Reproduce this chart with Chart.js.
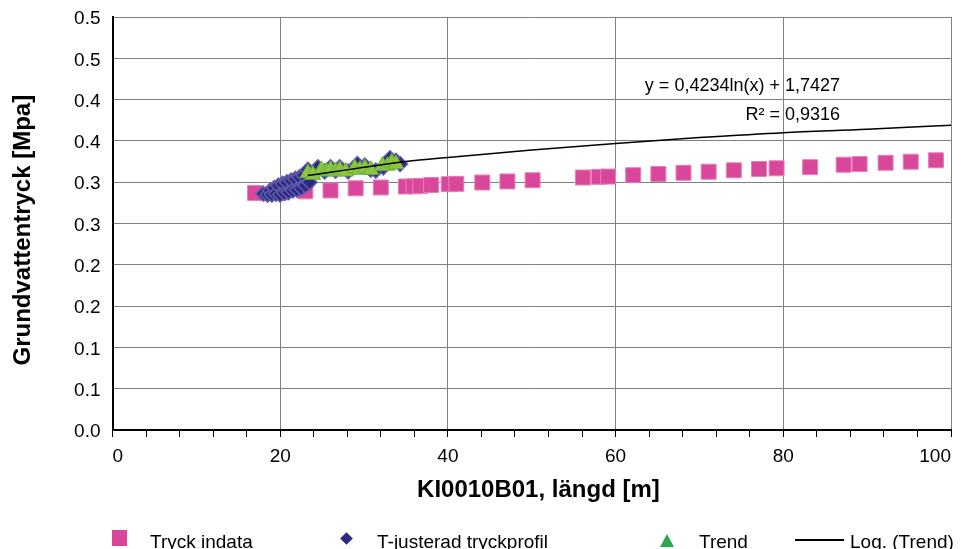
<!DOCTYPE html>
<html>
<head>
<meta charset="utf-8">
<script src="https://cdn.jsdelivr.net/npm/chart.js@4.4.0/dist/chart.umd.min.js"></script>
<style>
    html, body { margin: 0; padding: 0; background: #fff; }
    #wrap { position: relative; width: 963px; height: 549px; overflow: hidden; font-family: "Liberation Sans", Arial, sans-serif; }
    #chart { position: absolute; left: 0; top: 0; }
    .lg-text { position: absolute; top: 532px; font-size: 19px; line-height: 19px; color: #000; white-space: nowrap; }
    .lg-square { position: absolute; left: 112px; top: 530px; width: 15px; height: 16px; background: #d9479b; }
    .lg-diamond { position: absolute; left: 342px; top: 534px; width: 9px; height: 9px; background: #2d2a80; transform: rotate(45deg); }
    .lg-triangle { position: absolute; left: 660px; top: 534px; width: 0; height: 0; border-left: 7px solid transparent; border-right: 7px solid transparent; border-bottom: 13px solid #2ea84b; }
    .lg-line { position: absolute; left: 795px; top: 539px; width: 49px; height: 2px; background: #000; }
</style>
</head>
<body>
<div id="wrap">
    <canvas id="chart" width="963" height="549"></canvas>
    <div class="lg-square"></div>
    <div class="lg-text" style="left:150px">Tryck indata</div>
    <div class="lg-diamond"></div>
    <div class="lg-text" style="left:377px">T-justerad tryckprofil</div>
    <div class="lg-triangle"></div>
    <div class="lg-text" style="left:699px">Trend</div>
    <div class="lg-line"></div>
    <div class="lg-text" style="left:850px">Log. (Trend)</div>
</div>
<script>
// Données
const pinkX = [17.0, 20.0, 23.0, 26.0, 29.0, 32.0, 35.0, 35.9, 36.7, 38.0,
               40.1, 41.0, 44.1, 47.1, 50.1, 56.1, 58.0, 59.1, 62.1, 65.1,
               68.1, 71.1, 74.1, 77.1, 79.2, 83.2, 87.2, 89.1, 92.2, 95.2, 98.2];
const pinkY = [0.287, 0.2875, 0.289, 0.290, 0.2926, 0.2936, 0.2948, 0.295, 0.2955, 0.2966,
               0.2976, 0.298, 0.2996, 0.3009, 0.3024, 0.3057, 0.3065, 0.3068, 0.3085, 0.310,
               0.3114, 0.3127, 0.3144, 0.316, 0.3168, 0.3182, 0.3212, 0.322, 0.3235, 0.3248, 0.3265];

const diamondX = [18.0, 18.5, 18.8, 19.0, 19.3, 19.5, 19.8, 20.0, 20.3, 20.5,
                  20.8, 21.0, 21.3, 21.5, 21.8, 22.0, 22.3, 22.5, 22.8, 23.0,
                  23.3, 23.5, 24.5, 25.3, 26.0, 26.6, 27.1, 28.1, 29.2, 30.1,
                  30.8, 31.4, 32.3, 33.1, 33.8, 34.3];
const diamondY = [0.286, 0.285, 0.290, 0.285, 0.293, 0.286, 0.296, 0.285, 0.298, 0.287,
                  0.300, 0.288, 0.302, 0.290, 0.304, 0.291, 0.306, 0.293, 0.308, 0.296,
                  0.315, 0.300, 0.318, 0.313, 0.318, 0.314, 0.318, 0.313, 0.322, 0.320,
                  0.315, 0.314, 0.318, 0.329, 0.326, 0.322];

const triX = [23.3, 23.9, 24.9, 25.5, 26.0, 26.6, 27.1, 27.8, 28.9, 29.5, 30.1, 30.8, 32.2, 32.8, 33.3, 33.8];
const triY = [0.311, 0.309, 0.315, 0.313, 0.315, 0.313, 0.315, 0.313, 0.317, 0.315, 0.317, 0.315, 0.320, 0.320, 0.324, 0.322];

// Courbe de tendance (log)
const trendX = [23.3, 26, 30, 35, 40, 50, 60, 70, 80, 90, 100];
const trendY = [0.308, 0.312, 0.318, 0.325, 0.330, 0.339, 0.347, 0.354, 0.360, 0.364, 0.369];

const xMajorTicks = [0, 20, 40, 60, 80, 100];
const yTickLabels = ['0.0', '0.1', '0.1', '0.2', '0.2', '0.3', '0.3', '0.4', '0.4', '0.5', '0.5'];

const equationText = 'y = 0,4234ln(x) + 1,7427';
const r2Text = 'R² = 0,9316';

const FONT = '"Liberation Sans", Arial, sans-serif';

function toPoints(xs, ys) {
    return xs.map((x, i) => ({ x: x, y: ys[i] }));
}

// Texte de l'équation de tendance
const trendLabel = {
    id: 'trendLabel',
    afterDatasetsDraw(chart) {
        const ctx = chart.ctx;
        const a = chart.chartArea;
        ctx.save();
        ctx.font = '18px ' + FONT;
        ctx.fillStyle = '#000';
        ctx.textAlign = 'right';
        ctx.textBaseline = 'alphabetic';
        ctx.fillText(equationText, a.right - 111, a.top + 73.5);
        ctx.fillText(r2Text, a.right - 111, a.top + 103);
        ctx.restore();
    }
};

const ctx = document.getElementById('chart').getContext('2d');
new Chart(ctx, {
    type: 'scatter',
    data: {
        datasets: [
            {
                label: 'Log. (Trend)',
                data: toPoints(trendX, trendY),
                showLine: true,
                borderColor: '#000',
                borderWidth: 1.5,
                pointRadius: 0,
                fill: false,
                cubicInterpolationMode: 'monotone',
                order: 0
            },
            {
                label: 'Trend',
                data: toPoints(triX, triY),
                pointStyle: 'triangle',
                pointRadius: 9,
                backgroundColor: '#8cc63f',
                borderColor: '#6db23a',
                borderWidth: 1,
                order: 1
            },
            {
                label: 'T-justerad tryckprofil',
                data: toPoints(diamondX, diamondY),
                pointStyle: 'rectRot',
                pointRadius: 7.5,
                backgroundColor: '#2d2a80',
                borderColor: '#605cae',
                borderWidth: 1.5,
                order: 2
            },
            {
                label: 'Tryck indata',
                data: toPoints(pinkX, pinkY),
                pointStyle: 'rect',
                pointRadius: 10.6,
                backgroundColor: '#d9479b',
                borderColor: '#e680bb',
                borderWidth: 1,
                order: 3
            }
        ]
    },
    options: {
        responsive: false,
        animation: false,
        layout: { padding: { left: 0, right: 12, top: 17, bottom: 41 } },
        scales: {
            x: {
                type: 'linear',
                min: 0,
                max: 100,
                ticks: {
                    stepSize: 4,
                    autoSkip: false,
                    maxRotation: 0,
                    align: 'inner',
                    padding: 8,
                    color: '#000',
                    font: { family: FONT, size: 19 },
                    callback: v => xMajorTicks.includes(v) ? String(v) : ''
                },
                grid: {
                    color: c => (c.tick && xMajorTicks.includes(c.tick.value)) ? '#808080' : 'rgba(0,0,0,0)',
                    tickColor: '#000',
                    tickLength: 7,
                    lineWidth: 1
                },
                border: { color: '#000', width: 2 },
                title: {
                    display: true,
                    text: '  KI0010B01, längd [m]',
                    color: '#000',
                    font: { family: FONT, size: 24, weight: 'bold' },
                    padding: { top: 0, bottom: 3 }
                },
                afterFit: s => { s.height = 78; s.paddingLeft = 0; s.paddingRight = 0; }
            },
            y: {
                min: 0,
                max: 0.5,
                ticks: {
                    stepSize: 0.05,
                    padding: 12,
                    labelOffset: 2,
                    color: '#000',
                    font: { family: FONT, size: 19 },
                    callback: (v, i) => yTickLabels[i]
                },
                grid: { color: '#808080', drawTicks: false, lineWidth: 1 },
                border: { color: '#000', width: 2 },
                title: {
                    display: true,
                    text: 'Grundvattentryck [Mpa]  ',
                    color: '#000',
                    font: { family: FONT, size: 24, weight: 'bold' },
                    padding: { top: 9, bottom: 0 }
                },
                afterFit: s => { s.width = 112.5; s.paddingTop = 0; s.paddingBottom = 0; }
            }
        },
        plugins: {
            legend: { display: false },
            tooltip: { enabled: false }
        }
    },
    plugins: [trendLabel]
});
</script>
</body>
</html>
